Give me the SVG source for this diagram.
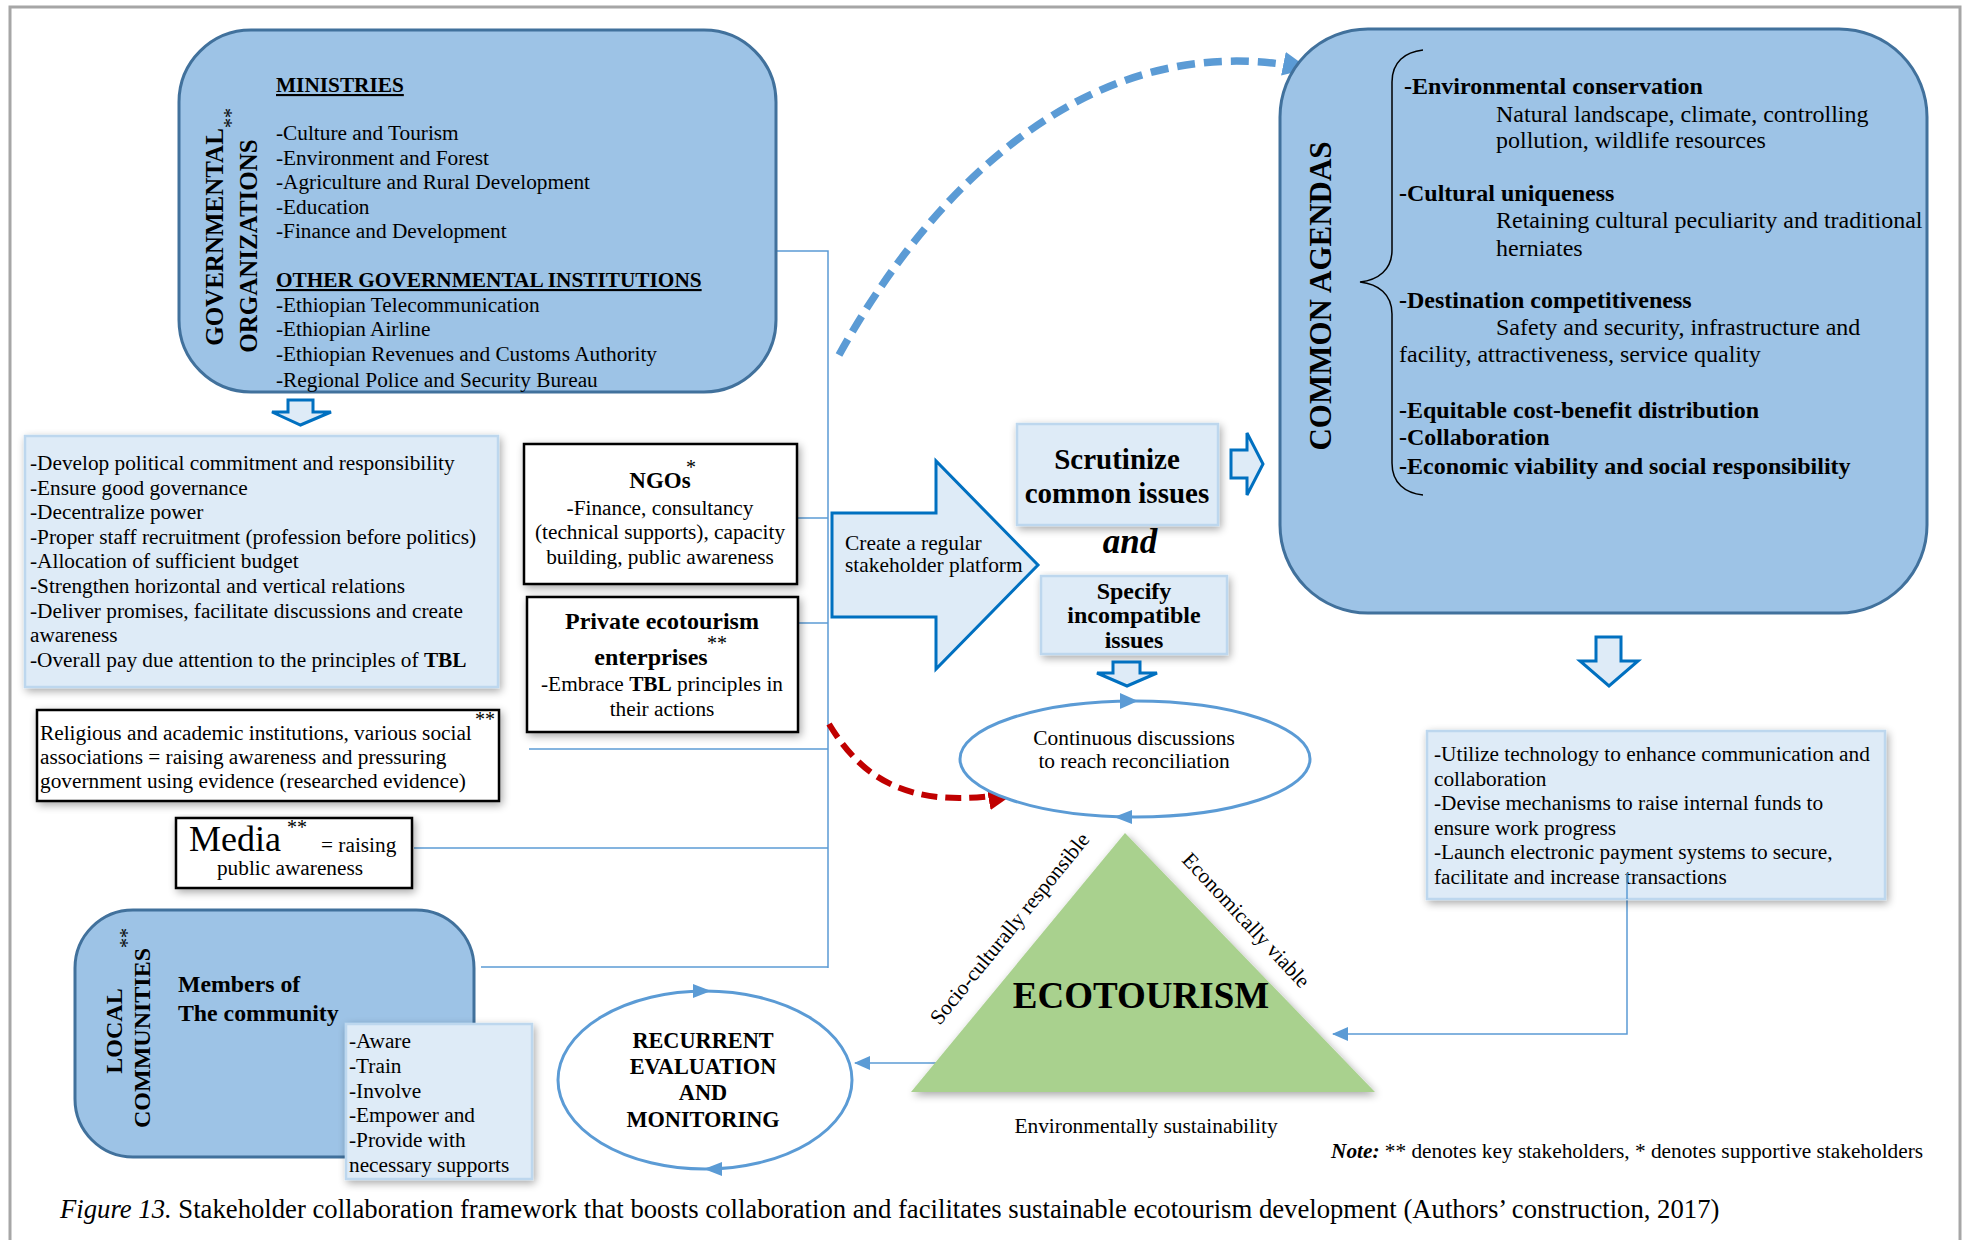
<svg xmlns="http://www.w3.org/2000/svg" width="1966" height="1240" viewBox="0 0 1966 1240">
<defs>
<style>
text{font-family:"Liberation Serif","Times New Roman",serif;fill:#000}
.f21{font-size:21.3px}
.f20{font-size:21.4px}
.f24{font-size:24px}
.b{font-weight:bold}
.c{text-anchor:middle}
.big{fill:#9dc3e6;stroke:#41719c;stroke-width:3}
.lite{fill:#deebf7;stroke:#bdd7ee;stroke-width:2.5}
.blk{fill:#fff;stroke:#000;stroke-width:2.5}
.barrow{fill:#deebf7;stroke:#0070c0;stroke-width:3}
.conn{fill:none;stroke:#5b9bd5;stroke-width:1.5}
.ell{fill:#fff;stroke:#5b9bd5;stroke-width:3}
.head{fill:#5b9bd5}
.star{font-size:20px}
</style>
<filter id="shadow" x="-10%" y="-10%" width="125%" height="130%">
<feGaussianBlur in="SourceAlpha" stdDeviation="4"/>
<feOffset dx="2" dy="3" result="o"/>
<feComponentTransfer><feFuncA type="linear" slope="0.35"/></feComponentTransfer>
<feMerge><feMergeNode/><feMergeNode in="SourceGraphic"/></feMerge>
</filter>
<marker id="arrConn" viewBox="0 0 16 14" refX="15" refY="7" markerWidth="16" markerHeight="14" orient="auto" markerUnits="userSpaceOnUse">
<path d="M0,0 L16,7 L0,14 Z" fill="#5b9bd5"/>
</marker>
<marker id="arrRed" viewBox="0 0 28 26" refX="24" refY="13" markerWidth="28" markerHeight="26" orient="auto" markerUnits="userSpaceOnUse">
<path d="M0,0 L28,13 L0,26 Z" fill="#c00000"/>
</marker>
<marker id="arrBlue" viewBox="0 0 26 24" refX="22" refY="12" markerWidth="26" markerHeight="24" orient="auto" markerUnits="userSpaceOnUse">
<path d="M0,0 L26,12 L0,24 Z" fill="#5b9bd5"/>
</marker>
</defs>

<rect x="0" y="0" width="1966" height="1240" fill="#fff"/>
<!-- outer frame -->
<rect x="10" y="7" width="1950" height="1260" fill="none" stroke="#a6a6a6" stroke-width="3"/>

<!-- connectors -->
<g id="connectors">
<path class="conn" d="M776,251 H828 V968"/>
<path class="conn" d="M796,518 H828"/>
<path class="conn" d="M797,623 H828"/>
<path class="conn" d="M529,749 H828"/>
<path class="conn" d="M414,848 H828"/>
<path class="conn" d="M481,967 H828"/>
<path class="conn" d="M1627,873 V1034 H1333" marker-end="url(#arrConn)"/>
<path class="conn" d="M943,1063 H855" marker-end="url(#arrConn)"/>
<path d="M839,355 C930,190 1090,25 1305,68" fill="none" stroke="#5b9bd5" stroke-width="7.5" stroke-dasharray="18 9" marker-end="url(#arrBlue)"/>
<path d="M829,724 C860,775 905,812 1012,793" fill="none" stroke="#c00000" stroke-width="6" stroke-dasharray="16 8" marker-end="url(#arrRed)"/>
</g>

<!-- governmental organizations -->
<g id="gov">
<rect class="big" x="179" y="30" width="597" height="362" rx="72"/>
<text class="b c" font-size="25" transform="translate(223,237) rotate(-90)">GOVERNMENTAL</text>
<text class="b c" font-size="25" transform="translate(257,246) rotate(-90)">ORGANIZATIONS</text>
<text class="star" transform="translate(238,128) rotate(-90)">**</text>
<text class="f21 b" x="276" y="92" text-decoration="underline">MINISTRIES</text>
<text class="f21" x="276" y="140">-Culture and Tourism</text>
<text class="f21" x="276" y="165">-Environment and Forest</text>
<text class="f21" x="276" y="189">-Agriculture and Rural Development</text>
<text class="f21" x="276" y="214">-Education</text>
<text class="f21" x="276" y="238">-Finance and Development</text>
<text class="f21 b" x="276" y="287" text-decoration="underline">OTHER GOVERNMENTAL INSTITUTIONS</text>
<text class="f21" x="276" y="311.5">-Ethiopian Telecommunication</text>
<text class="f21" x="276" y="336">-Ethiopian Airline</text>
<text class="f21" x="276" y="360.5">-Ethiopian Revenues and Customs Authority</text>
<text class="f21" x="276" y="386.5">-Regional Police and Security Bureau</text>
</g>

<g id="gov-arrow">
<polygon class="barrow" points="288,400 313,400 313,412 331,412 300.5,425 272,412 288,412"/>
</g>

<!-- government actions -->
<g id="gov-actions">
<rect class="lite" x="25" y="436" width="473" height="251" filter="url(#shadow)"/>
<text class="f21" x="30" y="470">-Develop political commitment and responsibility</text>
<text class="f21" x="30" y="495">-Ensure good governance</text>
<text class="f21" x="30" y="519">-Decentralize power</text>
<text class="f21" x="30" y="544">-Proper staff recruitment (profession before politics)</text>
<text class="f21" x="30" y="568">-Allocation of sufficient budget</text>
<text class="f21" x="30" y="593">-Strengthen horizontal and vertical relations</text>
<text class="f21" x="30" y="618">-Deliver promises, facilitate discussions and create</text>
<text class="f21" x="30" y="642">awareness</text>
<text class="f21" x="30" y="667">-Overall pay due attention to the principles of <tspan class="b">TBL</tspan></text>
</g>

<!-- NGOs -->
<g id="ngos">
<rect class="blk" x="524" y="444" width="273" height="140" filter="url(#shadow)"/>
<text class="b c" font-size="23" x="660" y="488">NGOs</text>
<text class="star" x="686" y="474">*</text>
<text class="f21 c" x="660" y="515">-Finance, consultancy</text>
<text class="f21 c" x="660" y="539">(technical supports), capacity</text>
<text class="f21 c" x="660" y="564">building, public awareness</text>
</g>

<!-- private enterprises -->
<g id="private">
<rect class="blk" x="527" y="597" width="271" height="135" filter="url(#shadow)"/>
<text class="b c" font-size="24" x="662" y="629">Private ecotourism</text>
<text class="star" x="707" y="650">**</text>
<text class="b c" font-size="24" x="651" y="665">enterprises</text>
<text class="f21 c" x="662" y="691">-Embrace <tspan class="b">TBL</tspan> principles in</text>
<text class="f21 c" x="662" y="716">their actions</text>
</g>

<!-- religious and academic institutions -->
<g id="institutions">
<rect class="blk" x="37" y="710" width="462" height="91" filter="url(#shadow)"/>
<text class="f21" x="40" y="740">Religious and academic institutions, various social</text>
<text class="f21" x="40" y="764">associations = raising awareness and pressuring</text>
<text class="f21" x="40" y="788">government using evidence (researched evidence)</text>
<text class="star" x="475" y="726">**</text>
</g>

<!-- media -->
<g id="media">
<rect class="blk" x="176" y="818" width="236" height="70" filter="url(#shadow)"/>
<text font-size="36" x="189" y="851">Media</text>
<text class="star" x="287" y="834">**</text>
<text class="f21" x="321" y="852">= raising</text>
<text class="f21 c" x="290" y="875">public awareness</text>
</g>

<!-- local communities -->
<g id="local">
<rect class="big" x="75" y="910" width="399" height="247" rx="58"/>
<text class="b c" font-size="24" transform="translate(122,1031) rotate(-90)">LOCAL</text>
<text class="b c" font-size="24" transform="translate(150,1038) rotate(-90)">COMMUNITIES</text>
<text class="star" transform="translate(134,948) rotate(-90)">**</text>
<text class="b" font-size="23.8" x="178" y="992">Members of</text>
<text class="b" font-size="23.8" x="178" y="1021">The community</text>
</g>

<g id="local-actions">
<rect class="lite" x="346" y="1024" width="186" height="155" filter="url(#shadow)"/>
<text class="f21" x="349" y="1048">-Aware</text>
<text class="f21" x="349" y="1073">-Train</text>
<text class="f21" x="349" y="1098">-Involve</text>
<text class="f21" x="349" y="1122">-Empower and</text>
<text class="f21" x="349" y="1147">-Provide with</text>
<text class="f21" x="349" y="1172">necessary supports</text>
</g>

<!-- stakeholder platform arrow -->
<g id="platform">
<polygon class="barrow" points="832,513 936,513 936,461 1038,565 936,669 936,617 832,617"/>
<text class="f20" x="845" y="550">Create a regular</text>
<text class="f20" x="845" y="572">stakeholder platform</text>
</g>

<g id="scrutinize">
<rect class="lite" x="1017" y="424" width="201" height="101" filter="url(#shadow)"/>
<text class="b c" font-size="29" x="1117" y="469">Scrutinize</text>
<text class="b c" font-size="29" x="1117" y="503">common issues</text>
</g>

<g id="scrutinize-arrow">
<polygon class="barrow" points="1231,450 1247,450 1247,433 1263,464 1247,495 1247,478 1231,478"/>
</g>

<g id="and-label">
<text class="b c" font-size="35" font-style="italic" x="1130" y="553">and</text>
</g>

<g id="specify">
<rect class="lite" x="1041" y="576" width="186" height="78" filter="url(#shadow)"/>
<text class="b c" font-size="24" x="1134" y="599">Specify</text>
<text class="b c" font-size="24" x="1134" y="623">incompatible</text>
<text class="b c" font-size="24" x="1134" y="648">issues</text>
</g>

<g id="specify-arrow">
<polygon class="barrow" points="1113,662 1140,662 1140,673 1157,673 1127,686 1097,673 1113,673"/>
</g>

<!-- continuous discussions -->
<g id="discussions">
<ellipse class="ell" cx="1135" cy="759" rx="175" ry="58"/>
<polygon class="head" points="1120,693 1138,701 1120,709"/>
<polygon class="head" points="1132,810 1114,817 1132,824"/>
<text class="f20 c" x="1134" y="745">Continuous discussions</text>
<text class="f20 c" x="1134" y="768">to reach reconciliation</text>
</g>

<!-- ecotourism triangle -->
<g id="ecotourism">
<polygon points="1125,833 1375,1092 911,1092" fill="#a9d18e" filter="url(#shadow)"/>
<text class="b c" font-size="37" x="1141" y="1008">ECOTOURISM</text>
<text class="f21 c" transform="translate(1015,933) rotate(-51)">Socio-culturally responsible</text>
<text class="f21 c" transform="translate(1241,925) rotate(47)">Economically viable</text>
<text class="f20 c" x="1146" y="1133">Environmentally sustainability</text>
</g>

<!-- recurrent evaluation -->
<g id="evaluation">
<ellipse class="ell" cx="705" cy="1080" rx="147" ry="89"/>
<polygon class="head" points="693,984 711,991 693,998"/>
<polygon class="head" points="722,1162 704,1169 722,1176"/>
<text class="b c" font-size="22.3" x="703" y="1048">RECURRENT</text>
<text class="b c" font-size="22.3" x="703" y="1074">EVALUATION</text>
<text class="b c" font-size="22.3" x="703" y="1100">AND</text>
<text class="b c" font-size="22.3" x="703" y="1127">MONITORING</text>
</g>

<!-- common agendas -->
<g id="agendas">
<rect class="big" x="1280" y="29" width="647" height="584" rx="88"/>
<text class="b c" font-size="31" transform="translate(1331,296) rotate(-90)">COMMON AGENDAS</text>
<path d="M1423,50 C1405,52 1392,62 1392,82 L1392,250 C1392,270 1378,280 1360,282 C1378,284 1392,294 1392,314 L1392,463 C1392,483 1405,493 1423,495" fill="none" stroke="#000" stroke-width="1.5"/>
<text class="f24 b" x="1404" y="94">-Environmental conservation</text>
<text class="f24" x="1496" y="122">Natural landscape, climate, controlling</text>
<text class="f24" x="1496" y="148">pollution, wildlife resources</text>
<text class="f24 b" x="1399" y="201">-Cultural uniqueness</text>
<text class="f24" x="1496" y="228">Retaining cultural peculiarity and traditional</text>
<text class="f24" x="1496" y="256">herniates</text>
<text class="f24 b" x="1399" y="308">-Destination competitiveness</text>
<text class="f24" x="1496" y="335">Safety and security, infrastructure and</text>
<text class="f24" x="1399" y="362">facility, attractiveness, service quality</text>
<text class="f24 b" x="1399" y="418">-Equitable cost-benefit distribution</text>
<text class="f24 b" x="1399" y="445">-Collaboration</text>
<text class="f24 b" x="1399" y="474">-Economic viability and social responsibility</text>
</g>

<g id="agendas-arrow">
<polygon class="barrow" points="1596,637 1621,637 1621,661 1638,661 1609,686 1580,661 1596,661"/>
</g>

<!-- supporting mechanisms -->
<g id="mechanisms">
<rect class="lite" x="1427" y="731" width="458" height="168" filter="url(#shadow)"/>
<text class="f21" x="1434" y="761">-Utilize technology to enhance communication and</text>
<text class="f21" x="1434" y="786">collaboration</text>
<text class="f21" x="1434" y="810">-Devise mechanisms to raise internal funds to</text>
<text class="f21" x="1434" y="835">ensure work progress</text>
<text class="f21" x="1434" y="859">-Launch electronic payment systems to secure,</text>
<text class="f21" x="1434" y="884">facilitate and increase transactions</text>
</g>
<path class="conn" d="M1627,873 V899"/>

<!-- note and caption -->
<g id="note">
<text font-size="21.3" x="1331" y="1158"><tspan font-weight="bold" font-style="italic">Note:</tspan> ** denotes key stakeholders, * denotes supportive stakeholders</text>
</g>
<g id="caption">
<text font-size="26.7" x="60" y="1218"><tspan font-style="italic">Figure 13.</tspan> Stakeholder collaboration framework that boosts collaboration and facilitates sustainable ecotourism development (Authors’ construction, 2017)</text>
</g>
</svg>
